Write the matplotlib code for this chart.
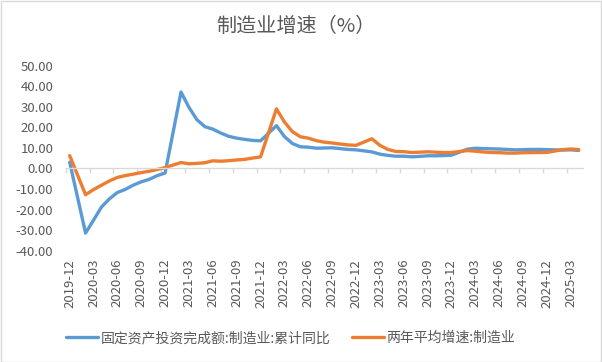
import numpy as np
import pandas as pd
import matplotlib
matplotlib.use("Agg")
import matplotlib.pyplot as plt
from matplotlib.patches import Rectangle

plt.rcParams['font.family'] = ['Noto Sans CJK SC', 'DejaVu Sans']

# monthly categories 2019-12 .. 2025-04 (January has no data)
months = [p.strftime("%Y-%m") for p in pd.period_range("2019-12", "2025-04", freq="M")]

fai_mfg = [3.1,
           np.nan, -31.5, -25.2, -18.8, -14.8, -11.7, -10.2, -8.1, -6.5, -5.3, -3.5, -2.2,
           np.nan, 37.3, 29.8, 23.8, 20.4, 19.2, 17.3, 15.7, 14.8, 14.2, 13.7, 13.5,
           np.nan, 20.9, 15.6, 12.2, 10.6, 10.4, 9.9, 10.0, 10.1, 9.7, 9.3, 9.1,
           np.nan, 8.1, 7.0, 6.4, 6.0, 6.0, 5.7, 5.9, 6.2, 6.2, 6.3, 6.5,
           np.nan, 9.4, 9.9, 9.7, 9.6, 9.5, 9.3, 9.1, 9.2, 9.3, 9.3, 9.2,
           np.nan, 9.0, 9.1, 8.8]

two_year_avg = [6.3,
                np.nan, -12.8, -10.3, -8.15, -6.05, -4.35, -3.45, -2.75, -2.0, -1.35, -0.5, 0.45,
                np.nan, 2.9, 2.3, 2.5, 2.8, 3.75, 3.55, 3.8, 4.15, 4.45, 5.1, 5.65,
                np.nan, 29.1, 22.7, 18.0, 15.5, 14.8, 13.6, 12.85, 12.45, 11.95, 11.5, 11.3,
                np.nan, 14.5, 11.3, 9.3, 8.3, 8.2, 7.8, 7.95, 8.15, 7.95, 7.8, 7.8,
                np.nan, 8.75, 8.45, 8.05, 7.8, 7.75, 7.5, 7.5, 7.7, 7.75, 7.8, 7.85,
                np.nan, 9.2, 9.5, 9.25]

series_names = ["固定资产投资完成额:制造业:累计同比", "两年平均增速:制造业"]
colors = ["#5B9BD5", "#ED7D31"]
title = "制造业增速（%）"
ymin, ymax = -40, 50

grey = "#595959"
fig = plt.figure(figsize=(6.02, 3.62), dpi=100)
ax = fig.add_axes([0.1091, 0.308, 0.8588, 0.5097])

df = pd.DataFrame({"fai": fai_mfg, "avg": two_year_avg})
for col, name, c in zip(["fai", "avg"], series_names, colors):
    s = df[col].dropna()
    ax.plot(s.index, s.values, color=c, lw=2.4, label=name,
            solid_joinstyle="round", solid_capstyle="round")

ax.set_xlim(-0.5, len(months) - 0.5)
ax.set_ylim(ymin, ymax)
ax.set_yticks(np.arange(ymin, ymax + 1, 10))
ax.yaxis.set_major_formatter(plt.FormatStrFormatter("%.2f"))
ax.tick_params(axis="y", length=0, pad=9, labelsize=9.5, labelcolor=grey)

for sp in ["top", "right", "left"]:
    ax.spines[sp].set_visible(False)
ax.spines["bottom"].set_position(("data", 0))
ax.spines["bottom"].set_color("#d9d9d9")
ax.spines["bottom"].set_linewidth(1)
ax.set_xticks(np.arange(-0.5, len(months) - 1, 3))
ax.tick_params(axis="x", length=3.5, width=1, color="#d9d9d9", labelbottom=False)

sec = ax.secondary_xaxis("bottom")
sec.set_xticks(np.arange(0, len(months), 3), labels=months[::3], rotation=90)
sec.tick_params(length=0, pad=6, labelsize=9.5, labelcolor=grey)
sec.spines["bottom"].set_visible(False)

fig.text(0.492, 1 - 27 / 362, title, ha="center", va="center", fontsize=14.5, color=grey)

fig.legend(loc="center", bbox_to_anchor=(0.483, 1 - 338 / 362), ncol=2, frameon=False,
           fontsize=10, labelcolor=grey, handlelength=2.3, handletextpad=0.2,
           columnspacing=1.5)

fig.patches.append(Rectangle((0.001, 0.001), 0.997, 0.996, transform=fig.transFigure,
                             fill=False, edgecolor="#d9d9d9", lw=1))

fig.savefig("out.png", dpi=100)
